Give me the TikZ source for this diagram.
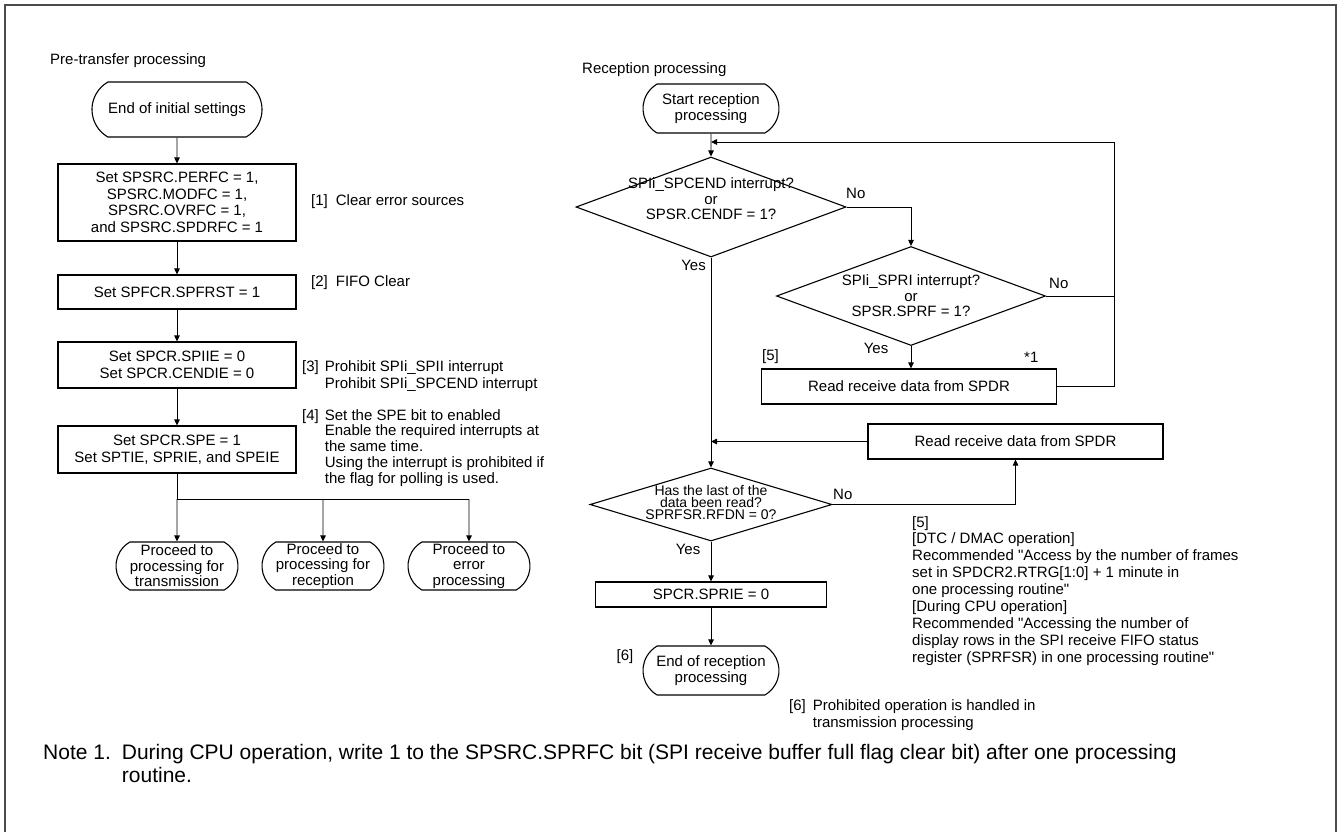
\documentclass[tikz,border=0pt]{standalone}
\usepackage{fontspec}
\setmainfont{Liberation Sans}
\usetikzlibrary{shapes.geometric,shapes.misc,arrows.meta}
\begin{document}
\begin{tikzpicture}[x=1pt,y=-1pt,
  font=\fontsize{15}{16.5}\selectfont,
  box/.style={draw, line width=1.1pt, align=center, inner sep=0pt},
  term/.style={draw, line width=1.1pt, rounded rectangle, rounded rectangle arc length=120, align=center, inner sep=0pt, font=\fontsize{15}{15.5}\selectfont},
  dia/.style={draw, line width=1.1pt, diamond, inner sep=0pt},
  dtext/.style={align=center, inner sep=0pt, font=\fontsize{15}{15.5}\selectfont},
  lbl/.style={inner sep=0pt, anchor=west},
  blk/.style={inner sep=0pt, anchor=north west},
  conn/.style={line width=0.9pt},
  arr/.style={line width=0.9pt, -{Triangle[length=6pt,width=5.5pt]}}]
\useasboundingbox (0,0) rectangle (1341,831);
\draw[line width=1.4pt, black!70] (5,845) -- (5,5) -- (1336,5) -- (1336,845);

% ---------- left column ----------
\node[lbl] (pre) at (50,61) {Pre-transfer processing};
\node[term, minimum width=170pt, minimum height=55pt] (t0) at (177,109.5) {End of initial settings};
\node[box, minimum width=238pt, minimum height=77pt] (b1) at (177,202.5) {Set SPSRC.PERFC = 1,\\SPSRC.MODFC = 1,\\SPSRC.OVRFC = 1,\\and SPSRC.SPDRFC = 1};
\node[box, minimum width=238pt, minimum height=34pt] (b2) at (177,292) {Set SPFCR.SPFRST = 1};
\node[box, minimum width=238pt, minimum height=46pt] (b3) at (177,365) {Set SPCR.SPIIE = 0\\Set SPCR.CENDIE = 0};
\node[box, minimum width=238pt, minimum height=47pt] (b4) at (177,449.5) {Set SPCR.SPE = 1\\Set SPTIE, SPRIE, and SPEIE};
\coordinate (j0) at (177,499);
\coordinate (j1) at (323,499);
\coordinate (j2) at (469,499);
\node[term, minimum width=122pt, minimum height=48pt] (t1) at (177,566) {Proceed to\\processing for\\transmission};
\node[term, minimum width=122pt, minimum height=48pt] (t2) at (323,566) {Proceed to\\processing for\\reception};
\node[term, minimum width=122pt, minimum height=48pt] (t3) at (469,566) {Proceed to\\error\\processing};

\draw[arr] (t0) -- (b1);
\draw[arr] (b1) -- (b2);
\draw[arr] (b2) -- (b3);
\draw[arr] (b3) -- (b4);
\draw[conn] (b4.south) -- (j0) -- (j2);
\draw[arr] (j0) -- (t1);
\draw[arr] (j1) -- (t2);
\draw[arr] (j2) -- (t3);

\node[lbl] (l1) at (311,202) {[1]\hspace{8pt}Clear error sources};
\node[lbl] (l2) at (311,283) {[2]\hspace{8pt}FIFO Clear};
\node[blk] (l3) at (302,360) {\begin{tabular}{@{}l@{\hspace{6pt}}l@{}}{[3]} & Prohibit SPIi\_SPII interrupt\\ & Prohibit SPIi\_SPCEND interrupt\end{tabular}};
\node[blk, font=\fontsize{15}{15.75}\selectfont] (l4) at (302,409) {\begin{tabular}{@{}l@{\hspace{6pt}}l@{}}{[4]} & Set the SPE bit to enabled\\ & Enable the required interrupts at\\ & the same time.\\ & Using the interrupt is prohibited if\\ & the flag for polling is used.\end{tabular}};

% ---------- right column ----------
\node[lbl] (rec) at (582,70) {Reception processing};
\node[term, minimum width=136pt, minimum height=49pt] (t4) at (711,108.5) {Start reception\\processing};
\coordinate (j3) at (711,142);
\node[dia, minimum width=270pt, minimum height=100pt] (d1) at (711,207) {};
\node[dtext] (d1t) at (711,199) {SPIi\_SPCEND interrupt?\\or\\SPSR.CENDF = 1?};
\node[dia, minimum width=269pt, minimum height=99pt] (d2) at (911,296) {};
\node[dtext] (d2t) at (911,296) {SPIi\_SPRI interrupt?\\or\\SPSR.SPRF = 1?};
\node[box, minimum width=295pt, minimum height=35pt] (b5) at (909,386.5) {Read receive data from SPDR};
\coordinate (rr) at (1114,142);
\node[box, minimum width=295pt, minimum height=35pt] (b6) at (1015.5,441.5) {Read receive data from SPDR};
\coordinate (j4) at (711,441.5);
\node[dia, minimum width=242pt, minimum height=73pt] (d3) at (711,504.5) {};
\node[dtext, font=\fontsize{14}{12}\selectfont] (d3t) at (711,502) {Has the last of the\\data been read?\\SPRFSR.RFDN = 0?};
\node[box, minimum width=231pt, minimum height=25pt] (b7) at (711,594.5) {SPCR.SPRIE = 0};
\node[term, minimum width=136pt, minimum height=49pt] (t5) at (711,670.5) {End of reception\\processing};

\draw[arr] (t4) -- (d1.north);
\draw[arr] (d1.east) -| (d2.north);
\draw[arr] (d2.south) -- (d2.south |- b5.north);
\draw[conn] (d2.east) -- (d2.east -| rr);
\draw[arr] (b5.east) -| (rr) -- (j3);
\draw[arr] (d1.south) -- (d3.north);
\draw[arr] (b6.west) -- (j4);
\draw[arr] (d3.east) -| (b6.south);
\draw[arr] (d3.south) -- (b7.north);
\draw[arr] (b7.south) -- (t5.north);

\node[lbl] (no1) at (846,193) {No};
\node[lbl, anchor=east] (yes1) at (706,265) {Yes};
\node[lbl] (no2) at (1049,283) {No};
\node[inner sep=0pt] (yes2) at (876,348) {Yes};
\node[lbl] (n5a) at (762,357) {[5]};
\node[lbl] (s1) at (1024,357) {*1};
\node[lbl] (no3) at (833,494) {No};
\node[inner sep=0pt] (yes3) at (688,549) {Yes};
\node[inner sep=0pt] (n6a) at (625,657) {[6]};

\node[blk, align=left, font=\fontsize{15}{16.9}\selectfont] (n5) at (912,516) {[5]\\ {[DTC / DMAC operation]}\\ Recommended \textquotedbl Access by the number of frames\\ set in SPDCR2.RTRG[1:0] + 1 minute in\\ one processing routine\textquotedbl\\ {[During CPU operation]}\\ Recommended \textquotedbl Accessing the number of\\ display rows in the SPI receive FIFO status\\ register (SPRFSR) in one processing routine\textquotedbl};
\node[blk, font=\fontsize{15}{17.5}\selectfont] (n6) at (789,698) {\begin{tabular}{@{}l@{\hspace{7pt}}l@{}}{[6]} & Prohibited operation is handled in\\ & transmission processing\end{tabular}};

% ---------- note ----------
\node[blk, font=\fontsize{21}{23}\selectfont] (note) at (43,743) {\begin{tabular}{@{}l@{\hspace{11pt}}l@{}}Note 1. & During CPU operation, write 1 to the SPSRC.SPRFC bit (SPI receive buffer full flag clear bit) after one processing\\ & routine.\end{tabular}};
\end{tikzpicture}
\end{document}
